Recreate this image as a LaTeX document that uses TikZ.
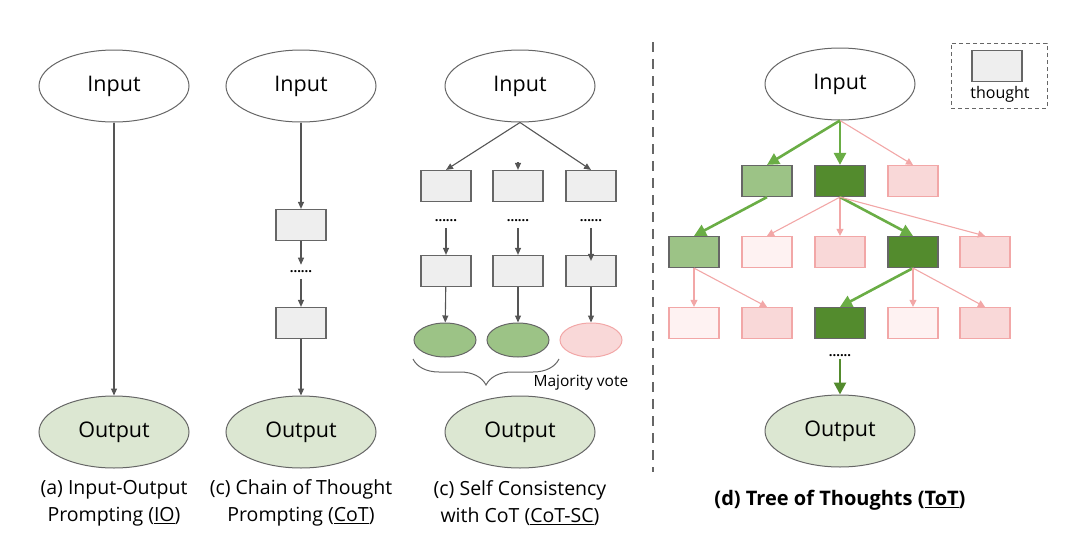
\documentclass[tikz,border=0pt]{standalone}
\usepackage{fontspec}
\setmainfont{Open Sans}
\usetikzlibrary{shapes.geometric,arrows.meta,decorations.pathreplacing}
\definecolor{edgegray}{HTML}{666666}
\definecolor{arrgray}{HTML}{555555}
\definecolor{boxgray}{HTML}{EEEEEE}
\definecolor{outfill}{HTML}{DCE7D2}
\definecolor{lgreen}{HTML}{9CC386}
\definecolor{dgreen}{HTML}{538B2D}
\definecolor{garrow}{HTML}{6AAD45}
\definecolor{pinkfill}{HTML}{F9D8D8}
\definecolor{pinkline}{HTML}{F2A7A7}
\definecolor{lpinkfill}{HTML}{FEF2F2}
\begin{document}
\begin{tikzpicture}[x=1pt,y=-1pt,
  ell/.style={ellipse,draw=edgegray,line width=1pt,minimum width=150pt,minimum height=72pt,inner sep=0pt,font=\fontsize{21.5}{24}\selectfont},
  inell/.style={ell,fill=white},
  outell/.style={ell,fill=outfill},
  smell/.style={ellipse,line width=1pt,minimum width=62pt,minimum height=34pt,inner sep=0pt},
  tb/.style={rectangle,line width=1.2pt,minimum width=50pt,minimum height=31pt,inner sep=0pt},
  gbox/.style={tb,draw=edgegray,fill=boxgray},
  lgbox/.style={tb,draw=edgegray,fill=lgreen},
  dgbox/.style={tb,draw=edgegray,fill=dgreen},
  pkbox/.style={tb,draw=pinkline,fill=pinkfill},
  lpbox/.style={tb,draw=pinkline,fill=lpinkfill},
  dotsnode/.style={inner sep=6pt,font=\fontsize{13}{13}\selectfont\bfseries},
  arr/.style={draw=arrgray,line width=1.1pt,-{Triangle[length=7pt,width=6pt]}},
  garr/.style={draw=garrow,line width=2.6pt,-{Triangle[length=12pt,width=12pt]}},
  parr/.style={draw=pinkline,line width=1.1pt,-{Triangle[length=7pt,width=7pt]}},
  captxt/.style={align=center,font=\fontsize{19.5}{27}\selectfont}
]
\useasboundingbox (0,0) rectangle (1080,536);

% ---------- (a) IO ----------
\node[inell] (ain) at (114,86) {Input};
\node[outell] (aout) at (114,432) {Output};
\draw[arr] (ain) -- (aout);
\node[captxt] (acap) at (114,503) {(a) Input-Output\\Prompting (\underline{IO})};

% ---------- (b) CoT ----------
\node[inell] (bin) at (301,86) {Input};
\node[gbox] (b1) at (301,225) {};
\node[dotsnode] (bdots) at (301,272) {......};
\node[gbox] (b2) at (301,323) {};
\node[outell] (bout) at (301,432) {Output};
\draw[arr] (bin) -- (b1);
\draw[arr] (b1) -- (bdots.north);
\draw[arr] (bdots.south) -- (b2);
\draw[arr] (b2) -- (bout);
\node[captxt] (bcap) at (301,503) {(c) Chain of Thought\\Prompting (\underline{CoT})};

% ---------- (c) CoT-SC ----------
\node[inell] (cin) at (520,86) {Input};
\node[gbox] (c11) at (446,186) {};
\node[gbox] (c12) at (518,186) {};
\node[gbox] (c13) at (591,186) {};
\node[dotsnode] (cd1) at (446,221) {......};
\node[dotsnode] (cd2) at (518,221) {......};
\node[dotsnode] (cd3) at (591,221) {......};
\node[gbox] (c21) at (446,271) {};
\node[gbox] (c22) at (518,271) {};
\node[gbox] (c23) at (591,271) {};
\node[smell,draw=edgegray,fill=lgreen] (ce1) at (445,340) {};
\node[smell,draw=edgegray,fill=lgreen] (ce2) at (518,340) {};
\node[smell,draw=pinkline,fill=pinkfill] (ce3) at (591,340) {};
\coordinate (cmid) at (518,162);
\draw[arr] (cin.south) -- (c11.north);
\draw[arr] (cmid) -- (c12.north);
\draw[arr] (cin.south) -- (c13.north);
\draw[arr] (cd1.south) -- (c21);
\draw[arr] (cd2.south) -- (c22);
\draw[arr] (cd3.south) -- ([yshift=-6pt]c23.north);
\draw[arr] (c21) -- (ce1);
\draw[arr] (c22) -- (ce2);
\draw[arr] (c23) -- (ce3);
\coordinate (brl) at (413,359);
\coordinate (brr) at (559,359);
\draw[edgegray,line width=1pt,decorate,decoration={brace,mirror,amplitude=26pt,aspect=0.5}] (brl) -- (brr);
\node[font=\fontsize{15.5}{16}\selectfont,anchor=west] (mv) at (530,383) {Majority vote};
\node[outell] (cout) at (520,432) {Output};
\node[captxt] (ccap) at (520,503) {(c) Self Consistency\\with CoT (\underline{CoT-SC})};

% ---------- separator ----------
\coordinate (sept) at (653,42);
\coordinate (sepb) at (653,472);
\draw[edgegray,line width=2.8pt,dash pattern=on 10pt off 7pt] (sept) -- (sepb);

% ---------- (d) ToT ----------
\node[inell] (din) at (840,84) {Input};
\node[lgbox] (r11) at (767,181) {};
\node[dgbox] (r12) at (840,181) {};
\node[pkbox] (r13) at (913,181) {};
\node[lgbox] (r21) at (694,252) {};
\node[lpbox] (r22) at (767,252) {};
\node[pkbox] (r23) at (840,252) {};
\node[dgbox] (r24) at (913,252) {};
\node[pkbox] (r25) at (985,252) {};
\node[lpbox] (r31) at (694,323) {};
\node[pkbox] (r32) at (767,323) {};
\node[dgbox] (r33) at (840,323) {};
\node[lpbox] (r34) at (913,323) {};
\node[pkbox] (r35) at (985,323) {};
\draw[garr] (din.south) -- (r11.north);
\draw[garr] (din.south) -- (r12.north);
\draw[parr] (din.south) -- (r13.north);
\draw[garr] (r11.south) -- (r21.north);
\draw[parr] (r12.south) -- (r22.north);
\draw[parr] (r12.south) -- (r23.north);
\draw[garr] (r12.south) -- (r24.north);
\draw[parr] (r12.south) -- (r25.north);
\draw[parr] (r21.south) -- (r31.north);
\draw[parr] (r21.south) -- (r32.north);
\draw[garr] (r24.south) -- (r33.north);
\draw[parr] (r24.south) -- (r34.north);
\draw[parr] (r24.south) -- (r35.north);
\node[dotsnode] (ddots) at (840,356) {......};
\node[outell] (dout) at (840,431) {Output};
\draw[draw=dgreen,line width=2.6pt,-{Triangle[length=12pt,width=12pt]}] ([yshift=4pt]ddots.south) -- (dout.north);
\node[captxt,font=\fontsize{20}{22}\selectfont\bfseries] (dcap) at (840,500) {(d) Tree of Thoughts (\underline{ToT})};

% ---------- legend ----------
\node[draw=edgegray,line width=1pt,dash pattern=on 4pt off 3pt,minimum width=96pt,minimum height=65pt,inner sep=0pt] (leg) at (999,75.5) {};
\node[gbox] (legbox) at (997,66) {};
\node[font=\fontsize{16}{17}\selectfont] (legtxt) at (1000,94) {thought};
\end{tikzpicture}
\end{document}
